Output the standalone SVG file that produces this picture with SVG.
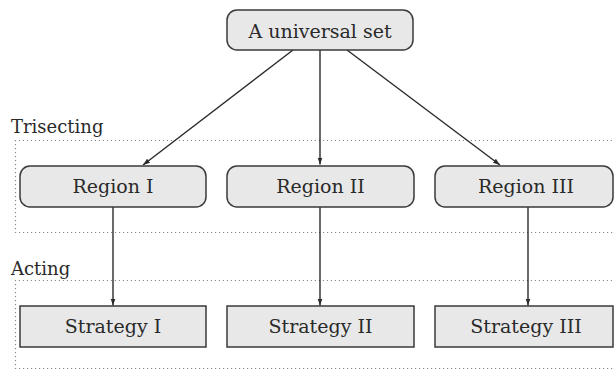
<svg xmlns="http://www.w3.org/2000/svg" width="614" height="371" viewBox="0 0 614 371">
<defs>
<style>
.box{fill:#e8e8e8;stroke:#3a3a3a;stroke-width:1.5}
text{font-family:'DejaVu Serif','Liberation Serif',serif;font-size:19px;fill:#2a2a2a}
.t{text-anchor:middle}
.lbl{font-size:18px}
.dot{fill:none;stroke:#8a8a8a;stroke-width:1.2;stroke-dasharray:1.2 2.8}
.edge{stroke:#2a2a2a;stroke-width:1.4;fill:none;marker-end:url(#ah)}
</style>
<marker id="ah" viewBox="0 0 10 10" refX="10" refY="5" markerWidth="7" markerHeight="7" markerUnits="userSpaceOnUse" orient="auto">
<path d="M0,1.5 L10,5 L0,8.5 Z" fill="#2a2a2a"/>
</marker>
</defs>
<rect width="614" height="371" fill="#ffffff"/>
<g id="layers">
<text class="lbl" x="11" y="133">Trisecting</text>
<path class="dot" d="M620,140.5 H15.5 V232.5 H620"/>
<text class="lbl" x="11" y="275">Acting</text>
<path class="dot" d="M620,280.5 H15.5 V368.5 H620"/>
</g>
<g id="connectors">
<line class="edge" x1="293" y1="50" x2="143" y2="165"/>
<line class="edge" x1="320" y1="50" x2="320" y2="164.5"/>
<line class="edge" x1="347" y1="50" x2="500" y2="165"/>
<line class="edge" x1="113" y1="207" x2="113" y2="305.5"/>
<line class="edge" x1="320" y1="207" x2="320" y2="305.5"/>
<line class="edge" x1="528" y1="207" x2="528" y2="305.5"/>
</g>
<g id="universal">
<rect class="box" x="227" y="10" width="186" height="40" rx="10"/>
<text class="t" x="320" y="38">A universal set</text>
</g>
<g id="region1">
<rect class="box" x="20" y="166" width="186" height="41" rx="10"/>
<text class="t" x="113" y="193">Region I</text>
</g>
<g id="region2">
<rect class="box" x="227" y="166" width="187" height="41" rx="10"/>
<text class="t" x="320.5" y="193">Region II</text>
</g>
<g id="region3">
<rect class="box" x="435" y="166" width="178" height="41" rx="10"/>
<text class="t" x="526" y="193">Region III</text>
</g>
<g id="strategy1">
<rect class="box" x="20" y="306" width="186" height="41"/>
<text class="t" x="113" y="333">Strategy I</text>
</g>
<g id="strategy2">
<rect class="box" x="227" y="306" width="187" height="41"/>
<text class="t" x="320.5" y="333">Strategy II</text>
</g>
<g id="strategy3">
<rect class="box" x="435" y="306" width="178" height="41"/>
<text class="t" x="526" y="333">Strategy III</text>
</g>
</svg>
